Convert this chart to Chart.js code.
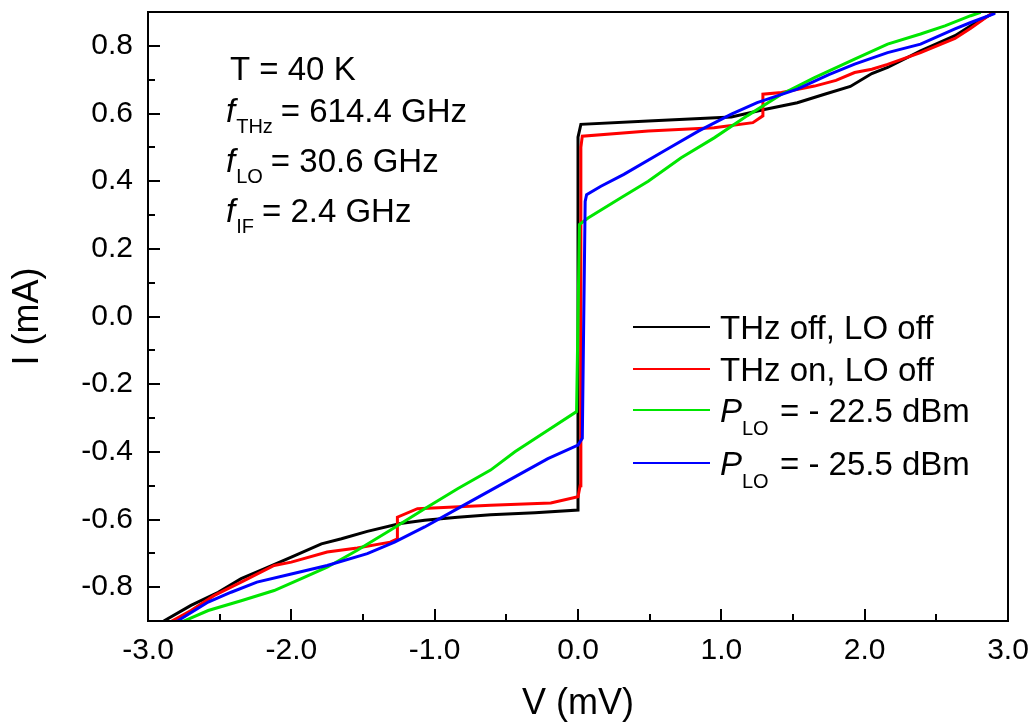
<!DOCTYPE html>
<html>
<head>
<meta charset="utf-8">
<script src="https://cdn.jsdelivr.net/npm/chart.js@4.4.1/dist/chart.umd.min.js"></script>
<style>
html,body{margin:0;padding:0;background:#fff}
#wrap{width:1034px;height:722px}
</style>
</head>
<body>
<div id="wrap"><canvas id="iv-chart"></canvas></div>
<script>
/* I-V curves, THz / LO pumped */
const seriesNames=['THz off, LO off','THz on, LO off','P_LO = - 22.5 dBm','P_LO = - 25.5 dBm'];
const seriesColors=['#000000','#ff0000','#00e600','#0000ff'];

const blackV=[-2.89,-2.70,-2.51,-2.35,-2.19,-2.00,-1.79,-1.65,-1.47,-1.24,-1.07,-0.84,-0.61,-0.30,0.00,0.00,0.00,0.02,0.49,1.07,1.30,1.53,1.72,1.90,2.05,2.16,2.39,2.63,2.74,2.91];
const blackI=[-0.90,-0.854,-0.815,-0.775,-0.746,-0.711,-0.672,-0.657,-0.635,-0.612,-0.602,-0.593,-0.586,-0.580,-0.572,0.00,0.53,0.568,0.578,0.590,0.612,0.632,0.657,0.680,0.718,0.736,0.785,0.830,0.859,0.900];

const redV=[-2.85,-2.70,-2.54,-2.35,-2.12,-2.00,-1.75,-1.54,-1.31,-1.26,-1.26,-1.12,-0.61,-0.19,0.00,0.015,0.02,0.03,0.49,0.95,1.22,1.29,1.29,1.42,1.65,1.80,1.93,2.05,2.16,2.39,2.63,2.74,2.89];
const redI=[-0.904,-0.869,-0.825,-0.785,-0.736,-0.726,-0.696,-0.684,-0.667,-0.657,-0.593,-0.568,-0.558,-0.551,-0.533,-0.50,0.50,0.533,0.548,0.558,0.573,0.593,0.657,0.662,0.681,0.698,0.721,0.731,0.745,0.780,0.822,0.852,0.897];

const greenV=[-2.77,-2.58,-2.35,-2.12,-1.93,-1.75,-1.54,-1.31,-1.07,-0.84,-0.61,-0.44,-0.21,-0.01,0.01,0.07,0.30,0.49,0.72,0.95,1.18,1.42,1.65,1.93,2.16,2.39,2.56,2.74,2.81];
const greenI=[-0.904,-0.869,-0.840,-0.810,-0.775,-0.741,-0.691,-0.632,-0.568,-0.509,-0.454,-0.400,-0.336,-0.281,0.272,0.291,0.351,0.400,0.469,0.528,0.593,0.657,0.706,0.761,0.805,0.835,0.859,0.889,0.899];

const blueV=[-2.81,-2.58,-2.42,-2.24,-2.00,-1.75,-1.47,-1.28,-1.07,-0.84,-0.61,-0.44,-0.21,0.00,0.03,0.05,0.06,0.16,0.32,0.60,0.84,1.07,1.25,1.53,1.75,1.93,2.16,2.39,2.63,2.74,2.91];
const blueI=[-0.904,-0.844,-0.815,-0.785,-0.761,-0.736,-0.701,-0.667,-0.622,-0.568,-0.514,-0.474,-0.420,-0.380,-0.360,0.340,0.360,0.385,0.420,0.489,0.548,0.598,0.632,0.672,0.715,0.746,0.780,0.805,0.850,0.869,0.896];

const xTicks=[-3,-2,-1,0,1,2,3];
const xMinor=[-2.5,-1.5,-0.5,0.5,1.5,2.5];
const yTicks=[-0.8,-0.6,-0.4,-0.2,0,0.2,0.4,0.6,0.8];
const yMinor=[-0.7,-0.5,-0.3,-0.1,0.1,0.3,0.5,0.7];

const FONT="'Liberation Sans', Arial, sans-serif";

function pts(v,i){return v.map((x,k)=>({x:x,y:i[k]}));}

// frame, inward ticks, annotation and legend
const decor={
  id:'decor',
  afterDraw(c){
    const ctx=c.ctx,a=c.chartArea,xs=c.scales.x,ys=c.scales.y;
    ctx.save();
    ctx.strokeStyle='#000';ctx.lineWidth=2;
    ctx.strokeRect(a.left,a.top,a.right-a.left,a.bottom-a.top);
    ctx.beginPath();
    xTicks.forEach(v=>{const p=Math.round(xs.getPixelForValue(v));ctx.moveTo(p,a.bottom);ctx.lineTo(p,a.bottom-12);});
    xMinor.forEach(v=>{const p=Math.round(xs.getPixelForValue(v));ctx.moveTo(p,a.bottom);ctx.lineTo(p,a.bottom-7);});
    yTicks.forEach(v=>{const p=Math.round(ys.getPixelForValue(v));ctx.moveTo(a.left,p);ctx.lineTo(a.left+12,p);});
    yMinor.forEach(v=>{const p=Math.round(ys.getPixelForValue(v));ctx.moveTo(a.left,p);ctx.lineTo(a.left+7,p);});
    ctx.stroke();

    ctx.fillStyle='#000';ctx.textBaseline='alphabetic';ctx.textAlign='left';
    const big='33px '+FONT, bigI='italic 33px '+FONT, sub='20px '+FONT;
    function subText(x,y,main,s,rest){
      ctx.font=bigI;ctx.fillText(main,x,y);
      let w=ctx.measureText(main).width;
      ctx.font=sub;ctx.fillText(s,x+w+1,y+11);
      w+=1+ctx.measureText(s).width;
      ctx.font=big;ctx.fillText(rest,x+w+8,y);
    }
    ctx.font=big;ctx.fillText('T = 40 K',230,80);
    subText(226,122,'f','THz','= 614.4 GHz');
    subText(226,172,'f','LO','= 30.6 GHz');
    subText(226,222,'f','IF','= 2.4 GHz');

    // legend
    const rows=[327,369,410,463];
    ctx.lineWidth=2;
    rows.forEach((ly,k)=>{
      ctx.strokeStyle=seriesColors[k];
      ctx.beginPath();ctx.moveTo(633,ly);ctx.lineTo(710,ly);ctx.stroke();
      const base=ly+12;
      if(k<2){ctx.font=big;ctx.fillText(seriesNames[k],720,base);}
      else{
        const rest=seriesNames[k].split('P_LO ')[1];
        ctx.font=bigI;ctx.fillText('P',720,base);
        ctx.font=sub;ctx.fillText('LO',742,base+13);
        ctx.font=big;ctx.fillText(rest,780,base);
      }
    });
    ctx.restore();
  }
};

const sets=[[blackV,blackI],[redV,redI],[greenV,greenI],[blueV,blueI]].map((s,k)=>({
  label:seriesNames[k],data:pts(s[0],s[1]),showLine:true,borderColor:seriesColors[k],
  borderWidth:3,pointRadius:0,fill:false,tension:0,order:4-k
}));

new Chart(document.getElementById('iv-chart'),{
  type:'scatter',
  data:{datasets:sets},
  options:{
    responsive:true,maintainAspectRatio:false,animation:false,
    layout:{padding:{left:0,right:26,top:12,bottom:0}},
    plugins:{legend:{display:false},tooltip:{enabled:false}},
    scales:{
      x:{type:'linear',min:-3,max:3,
        afterFit(s){s.height=101;s.paddingLeft=0;s.paddingRight=0;},
        afterBuildTicks(s){s.ticks=xTicks.map(v=>({value:v}));},
        ticks:{color:'#000',font:{family:FONT,size:30,lineHeight:1.2},padding:12,maxRotation:0,autoSkip:false,
          callback:v=>v.toFixed(1)},
        grid:{display:true,drawOnChartArea:false,drawTicks:false},border:{display:false},
        title:{display:true,text:'V (mV)',color:'#000',font:{family:FONT,size:36,lineHeight:1},padding:{top:0,bottom:0}}
      },
      y:{type:'linear',min:-0.9,max:0.9,
        afterFit(s){s.width=148;s.paddingTop=0;s.paddingBottom=0;},
        afterBuildTicks(s){s.ticks=yTicks.map(v=>({value:v}));},
        ticks:{color:'#000',font:{family:FONT,size:30,lineHeight:1.2},padding:15,autoSkip:false,
          callback:v=>v.toFixed(1)},
        grid:{display:true,drawOnChartArea:false,drawTicks:false},border:{display:false},
        title:{display:true,text:'I (mA)',color:'#000',font:{family:FONT,size:36,lineHeight:1},padding:{top:10,bottom:0}}
      }
    }
  },
  plugins:[decor]
});
</script>
</body>
</html>
